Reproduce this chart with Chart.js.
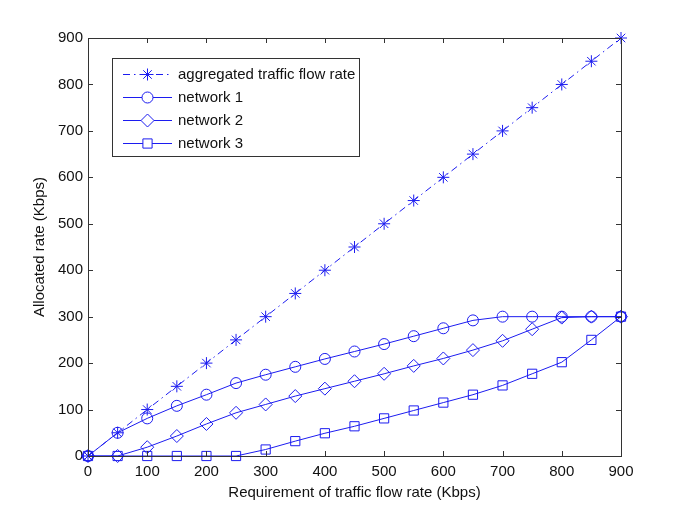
<!DOCTYPE html>
<html>
<head>
<meta charset="utf-8">
<script src="https://cdn.jsdelivr.net/npm/chart.js@4/dist/chart.umd.min.js"></script>
<style>
  html, body { margin: 0; padding: 0; background: #fff; }
  #wrap { width: 685px; height: 515px; }
</style>
</head>
<body>
<div id="wrap"><canvas id="rateChart"></canvas></div>
<script>
const requirement = [0, 50, 100, 150, 200, 250, 300, 350, 400, 450, 500, 550, 600, 650, 700, 750, 800, 850, 900];
const aggregated = [0, 50, 100, 150, 200, 250, 300, 350, 400, 450, 500, 550, 600, 650, 700, 750, 800, 850, 900];
const network1 = [0, 50, 81, 108, 132, 157, 175, 192, 209, 225, 241, 258, 275, 292, 300, 300, 300, 300, 300];
const network2 = [0, 0, 19, 43, 69, 93, 111, 129, 145, 161, 177, 194, 210, 228, 248, 273, 298, 300, 300];
const network3 = [0, 0, 0, 0, 0, 0, 14, 32, 49, 64, 81, 98, 115, 132, 152, 177, 202, 250, 300];
const tickValues = [0, 100, 200, 300, 400, 500, 600, 700, 800, 900];

const blue = '#1c1cf0';
const font = "'Liberation Sans', Arial, sans-serif";

function pts(ys) {
    return requirement.map((x, i) => ({ x: x, y: ys[i] }));
}

function series(label, ys, style, radius, dash) {
    return {
        label: label,
        data: pts(ys),
        borderColor: blue,
        backgroundColor: 'rgba(0,0,0,0)',
        borderWidth: 1,
        borderDash: dash || [],
        pointStyle: style,
        pointRadius: radius,
        pointBorderColor: blue,
        pointBackgroundColor: 'rgba(0,0,0,0)',
        pointBorderWidth: 1,
        tension: 0,
        clip: false
    };
}

// box, inward ticks on all four sides, and the legend inside the plot
const matlabAxes = {
    id: 'matlabAxes',
    afterDraw(chart) {
        const { ctx, chartArea: a, scales } = chart;
        ctx.save();
        ctx.strokeStyle = '#333';
        ctx.lineWidth = 1;
        ctx.strokeRect(a.left + 0.5, a.top + 0.5, a.right - a.left, a.bottom - a.top);
        ctx.beginPath();
        tickValues.forEach(v => {
            const x = Math.round(scales.x.getPixelForValue(v)) + 0.5;
            ctx.moveTo(x, a.bottom); ctx.lineTo(x, a.bottom - 5);
            ctx.moveTo(x, a.top); ctx.lineTo(x, a.top + 5);
            const y = Math.round(scales.y.getPixelForValue(v)) + 0.5;
            ctx.moveTo(a.left, y); ctx.lineTo(a.left + 5, y);
            ctx.moveTo(a.right, y); ctx.lineTo(a.right - 5, y);
        });
        ctx.stroke();

        // legend
        const bx = 112.5, by = 58.5, bw = 247, bh = 98;
        ctx.fillStyle = '#fff';
        ctx.fillRect(bx, by, bw, bh);
        ctx.strokeStyle = '#333';
        ctx.strokeRect(bx, by, bw, bh);
        const rows = [74, 97, 120, 143];
        chart.data.datasets.forEach((ds, i) => {
            const y = rows[i] + 0.5;
            ctx.strokeStyle = blue;
            ctx.lineWidth = 1;
            ctx.setLineDash(ds.borderDash);
            ctx.beginPath();
            ctx.moveTo(123, y);
            ctx.lineTo(172, y);
            ctx.stroke();
            ctx.setLineDash([]);
            ctx.fillStyle = '#fff';
            Chart.helpers.drawPoint(ctx, {
                pointStyle: ds.pointStyle,
                radius: ds.pointRadius,
                borderWidth: 1,
                rotation: 0
            }, 147.5, y);
            ctx.fillStyle = '#111';
            ctx.font = '15px ' + font;
            ctx.textBaseline = 'middle';
            ctx.textAlign = 'left';
            ctx.fillText(ds.label, 178, rows[i] + 1);
        });
        ctx.restore();
    }
};

new Chart(document.getElementById('rateChart'), {
    type: 'line',
    data: {
        datasets: [
            series('aggregated traffic flow rate', aggregated, 'star', 6, [7, 4, 1.5, 4]),
            series('network 1', network1, 'circle', 5.5),
            series('network 2', network2, 'rectRot', 6.5),
            series('network 3', network3, 'rect', 6.5)
        ]
    },
    options: {
        responsive: true,
        maintainAspectRatio: false,
        animation: false,
        layout: { padding: { top: 38, right: 64, left: 0, bottom: 0 } },
        plugins: {
            legend: { display: false },
            tooltip: { enabled: false }
        },
        scales: {
            x: {
                type: 'linear',
                min: 0,
                max: 900,
                afterBuildTicks: s => { s.ticks = tickValues.map(v => ({ value: v })); },
                afterFit: s => { s.height = 59; },
                grid: { display: false, drawTicks: false },
                border: { display: false },
                ticks: { color: '#111', padding: 7, font: { family: font, size: 15 }, maxRotation: 0 },
                title: {
                    display: true,
                    text: 'Requirement of traffic flow rate (Kbps)',
                    color: '#111',
                    font: { family: font, size: 15 },
                    padding: { top: 0, bottom: 13 }
                }
            },
            y: {
                type: 'linear',
                min: 0,
                max: 900,
                afterBuildTicks: s => { s.ticks = tickValues.map(v => ({ value: v })); },
                afterFit: s => { s.width = 88; },
                grid: { display: false, drawTicks: false },
                border: { display: false },
                ticks: { color: '#111', padding: 5, font: { family: font, size: 15 } },
                title: {
                    display: true,
                    text: 'Allocated rate (Kbps)',
                    color: '#111',
                    font: { family: font, size: 15 },
                    padding: { top: 31, bottom: 0 }
                }
            }
        }
    },
    plugins: [matlabAxes]
});
</script>
</body>
</html>
